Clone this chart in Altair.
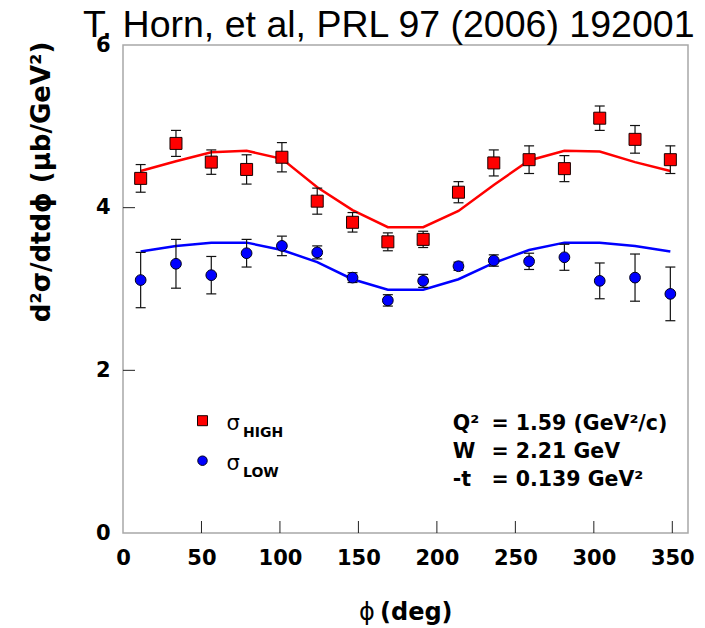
import altair as alt
import pandas as pd

# ---- data ----
phi = [11.25, 33.75, 56.25, 78.75, 101.25, 123.75, 146.25, 168.75,
       191.25, 213.75, 236.25, 258.75, 281.25, 303.75, 326.25, 348.75]
sig_high = [4.36, 4.79, 4.56, 4.47, 4.62, 4.08, 3.82, 3.58,
            3.61, 4.19, 4.55, 4.59, 4.48, 5.10, 4.84, 4.59]
sig_high_err = [0.17, 0.16, 0.15, 0.18, 0.18, 0.16, 0.12, 0.11,
                0.10, 0.13, 0.16, 0.17, 0.16, 0.15, 0.17, 0.17]
sig_low = [3.11, 3.31, 3.17, 3.44, 3.53, 3.45, 3.14, 2.86,
           3.10, 3.28, 3.35, 3.34, 3.39, 3.10, 3.14, 2.94]
sig_low_err = [0.34, 0.30, 0.23, 0.17, 0.12, 0.08, 0.06, 0.07,
               0.08, 0.05, 0.07, 0.10, 0.16, 0.22, 0.29, 0.33]
fit_high = [4.45, 4.57, 4.68, 4.70, 4.60, 4.25, 3.97, 3.76,
            3.76, 3.96, 4.28, 4.58, 4.70, 4.69, 4.56, 4.45]
fit_low = [3.46, 3.53, 3.57, 3.57, 3.48, 3.33, 3.12, 2.99,
           2.99, 3.12, 3.32, 3.48, 3.57, 3.57, 3.53, 3.46]
x_tick_values = [0, 50, 100, 150, 200, 250, 300, 350]
y_tick_values = [0, 2, 4, 6]
x_inner_ticks = [50, 100, 150, 200, 250, 300, 350]
y_inner_ticks = [2, 4]

W, H = 565, 488
BOLD = "DejaVu Sans"

xs = alt.Scale(domain=[0, 360], nice=False, zero=False)
ys = alt.Scale(domain=[0, 6], nice=False, zero=False)
xaxis = alt.Axis(values=x_tick_values, title=None, grid=False, ticks=False, tickSize=0,
                 domain=False, labelFont=BOLD, labelFontWeight="bold", labelFontSize=21,
                 labelColor="black", labelPadding=14, labelFlush=False, labelOverlap=False)
yaxis = alt.Axis(values=y_tick_values, title=None, grid=False, ticks=False, tickSize=0,
                 domain=False, labelFont=BOLD, labelFontWeight="bold", labelFontSize=21,
                 labelColor="black", labelPadding=13, labelOverlap=False)

def series_df(vals, errs, fit):
    return pd.DataFrame({
        "phi": phi, "v": vals,
        "lo": [a - b for a, b in zip(vals, errs)],
        "hi": [a + b for a, b in zip(vals, errs)],
        "fit": fit,
    })

dh = series_df(sig_high, sig_high_err, fit_high)
dl = series_df(sig_low, sig_low_err, fit_low)

X = alt.X("phi:Q", scale=xs, axis=xaxis)

layers = []
for df, col in [(dh, "#ff0000"), (dl, "#0000ff")]:
    base = alt.Chart(df)
    layers.append(base.mark_line(color=col, strokeWidth=2.5).encode(
        x=X, y=alt.Y("fit:Q", scale=ys, axis=yaxis)))
for df in [dh, dl]:
    base = alt.Chart(df)
    layers.append(base.mark_rule(color="#111", strokeWidth=1.2).encode(
        x=X, y=alt.Y("lo:Q", scale=ys, axis=yaxis), y2="hi:Q"))
    layers.append(base.mark_tick(color="#111", orient="horizontal", size=10, thickness=1.2,
                                 opacity=1).encode(x=X, y=alt.Y("lo:Q", scale=ys, axis=yaxis)))
    layers.append(base.mark_tick(color="#111", orient="horizontal", size=10, thickness=1.2,
                                 opacity=1).encode(x=X, y=alt.Y("hi:Q", scale=ys, axis=yaxis)))

layers.append(alt.Chart(dh).mark_square(size=144, fill="#ff0000", stroke="#1a0000",
                                        strokeWidth=1, opacity=1).encode(
    x=X, y=alt.Y("v:Q", scale=ys, axis=yaxis)))
layers.append(alt.Chart(dl).mark_circle(size=115, fill="#0000ff", stroke="#00001a",
                                        strokeWidth=1, opacity=1).encode(
    x=X, y=alt.Y("v:Q", scale=ys, axis=yaxis)))

# inward ticks
layers.append(alt.Chart(pd.DataFrame({"t": x_inner_ticks})).mark_rule(
    color="#222", strokeWidth=1).encode(
    x=alt.X("t:Q", scale=xs, axis=xaxis), y=alt.value(H), y2=alt.value(H - 12)))
layers.append(alt.Chart(pd.DataFrame({"t": y_inner_ticks})).mark_rule(
    color="#222", strokeWidth=1).encode(
    y=alt.Y("t:Q", scale=ys, axis=yaxis), x=alt.value(0), x2=alt.value(12)))

one = pd.DataFrame({"k": [0]})

def txt(s, x, y, size, weight="normal", font=BOLD, align="left", angle=0):
    kw = dict(font=font, fontSize=size, fontWeight=weight, align=align,
              baseline="alphabetic", color="black")
    if angle:
        kw["angle"] = angle
    return alt.Chart(one).mark_text(**kw).encode(
        x=alt.value(x), y=alt.value(y), text=alt.value(s))

# title
layers.append(txt("T. Horn, et al, PRL 97 (2006) 192001", -40, -8.5, 37.5,
                  font="Liberation Sans"))
# y title
layers.append(txt("d²σ/dtdϕ (μb/GeV²)", -73, 137, 26, weight="bold",
                  align="center", angle=270))
# x title
layers.append(txt("ϕ", 236, 575, 24, font="DejaVu Sans"))
layers.append(txt("(deg)", 257, 575, 24, weight="bold"))

# legend
layers.append(alt.Chart(one).mark_square(size=100, fill="#ff0000", stroke="#1a0000",
                                         strokeWidth=1, opacity=1).encode(
    x=alt.value(79.5), y=alt.value(375.7)))
layers.append(alt.Chart(one).mark_circle(size=90, fill="#0000ff", stroke="#00001a",
                                         strokeWidth=1, opacity=1).encode(
    x=alt.value(79.5), y=alt.value(415.7)))
layers.append(txt("σ", 103.5, 385, 21, font="DejaVu Sans"))
layers.append(txt("HIGH", 120, 391.7, 14, weight="bold"))
layers.append(txt("σ", 103.5, 425, 21, font="DejaVu Sans"))
layers.append(txt("LOW", 120, 432.3, 14, weight="bold"))

# kinematics annotation
layers.append(txt("Q²", 329.7, 385, 20.5, weight="bold"))
layers.append(txt("= 1.59 (GeV²/c)", 368.4, 385, 20.5, weight="bold"))
layers.append(txt("W", 329.7, 413.3, 20.5, weight="bold"))
layers.append(txt("= 2.21 GeV", 368.4, 413.3, 20.5, weight="bold"))
layers.append(txt("-t", 329.7, 441, 20.5, weight="bold"))
layers.append(txt("= 0.139 GeV²", 368.4, 441, 20.5, weight="bold"))

chart = alt.layer(*layers).properties(
    width=W, height=H,
    autosize=alt.AutoSizeParams(type="none"),
    padding={"left": 123, "top": 45, "right": 17, "bottom": 95},
    background="white",
).configure_view(stroke="#a8a8a8", strokeWidth=1.5).configure_axis(grid=False)

chart.save("out.html", embed_options={"renderer": "svg", "actions": False})
